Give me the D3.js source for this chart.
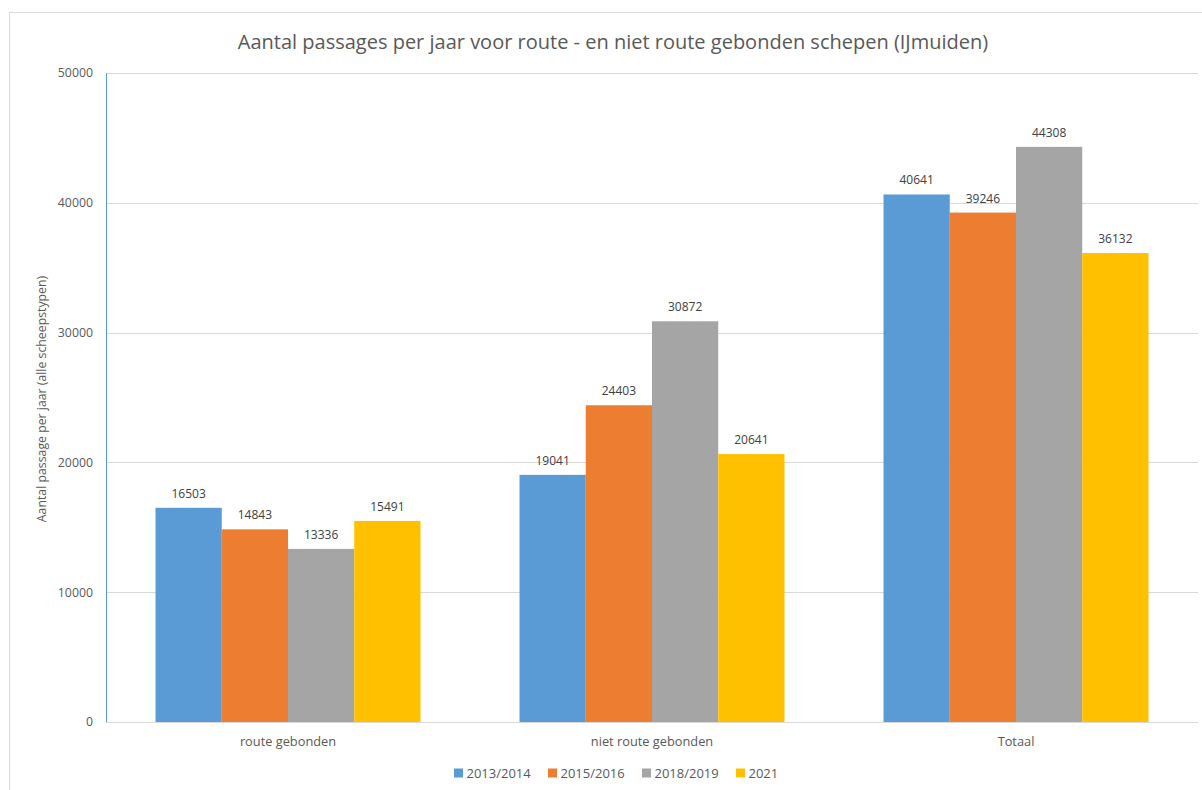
<!DOCTYPE html>
<html>
<head>
<meta charset="utf-8">
<script src="https://cdn.jsdelivr.net/npm/d3@7"></script>
<style>
  html, body { margin: 0; padding: 0; background: #fff; }
  svg { display: block; font-family: "Open Sans", "Liberation Sans", sans-serif; }
</style>
</head>
<body>
<svg id="chart" width="1202" height="790"></svg>
<script>
// Categories, series and values
const categories = ["route gebonden", "niet route gebonden", "Totaal"];
const seriesNames = ["2013/2014", "2015/2016", "2018/2019", "2021"];
const seriesColors = ["#5b9bd5", "#ed7d31", "#a5a5a5", "#ffc000"];
const values2013 = [16503, 19041, 40641];
const values2015 = [14843, 24403, 39246];
const values2018 = [13336, 30872, 44308];
const values2021 = [15491, 20641, 36132];
const yTicks = [0, 10000, 20000, 30000, 40000, 50000];

const seriesValues = [values2013, values2015, values2018, values2021];

const svg = d3.select("#chart");
const plot = { left: 106, right: 1198, top: 73, bottom: 722 };

// chart frame
svg.append("rect")
  .attr("x", 9.5).attr("y", 12.5)
  .attr("width", 1240).attr("height", 900)
  .attr("fill", "#fff").attr("stroke", "#d9d9d9").attr("stroke-width", 1);

const x0 = d3.scaleBand()
  .domain(categories)
  .range([plot.left, plot.right])
  .paddingInner(0.272)
  .paddingOuter(0.136);

const x1 = d3.scaleBand()
  .domain(seriesNames)
  .range([0, x0.bandwidth()])
  .padding(0);

const y = d3.scaleLinear()
  .domain([0, 50000])
  .range([plot.bottom, plot.top]);

// gridlines
svg.append("g")
  .selectAll("line")
  .data(yTicks.filter(d => d > 0))
  .join("line")
  .attr("x1", plot.left).attr("x2", plot.right)
  .attr("y1", d => Math.round(y(d)) + 0.5)
  .attr("y2", d => Math.round(y(d)) + 0.5)
  .attr("stroke", "#d9d9d9").attr("stroke-width", 1);

// y tick labels
const yAxis = d3.axisLeft(y).tickValues(yTicks).tickSize(0).tickPadding(13).tickFormat(d3.format("d"));
const gy = svg.append("g").attr("transform", `translate(${plot.left},0)`).call(yAxis);
gy.select(".domain").remove();
gy.selectAll("text")
  .attr("fill", "#595959")
  .style("font-size", "12.3px")
  .style("font-family", "'Open Sans', sans-serif");

// bars
const groups = svg.append("g")
  .selectAll("g")
  .data(categories)
  .join("g")
  .attr("transform", d => `translate(${x0(d)},0)`);

groups.selectAll("rect")
  .data((c, i) => seriesNames.map((s, j) => ({ s, j, v: seriesValues[j][i] })))
  .join("rect")
  .attr("x", d => x1(d.s))
  .attr("width", x1.bandwidth())
  .attr("y", d => y(d.v))
  .attr("height", d => y(0) - y(d.v))
  .attr("fill", d => seriesColors[d.j]);

// data labels
groups.selectAll("text")
  .data((c, i) => seriesNames.map((s, j) => ({ s, j, v: seriesValues[j][i] })))
  .join("text")
  .attr("x", d => x1(d.s) + x1.bandwidth() / 2)
  .attr("y", d => y(d.v) - 10)
  .attr("text-anchor", "middle")
  .attr("fill", "#404040")
  .style("font-size", "12px")
  .text(d => d.v);

// axis lines
svg.append("line")
  .attr("x1", plot.left).attr("x2", plot.right)
  .attr("y1", plot.bottom + 0.5).attr("y2", plot.bottom + 0.5)
  .attr("stroke", "#d9d9d9");
svg.append("line")
  .attr("x1", plot.left + 0.5).attr("x2", plot.left + 0.5)
  .attr("y1", plot.top).attr("y2", plot.bottom)
  .attr("stroke", "#5b9bd5").attr("stroke-width", 1);

// category labels
const xAxis = d3.axisBottom(x0).tickSize(0).tickPadding(15);
const gx = svg.append("g").attr("transform", `translate(0,${plot.bottom})`).call(xAxis);
gx.select(".domain").remove();
gx.selectAll("text")
  .attr("fill", "#595959")
  .style("font-size", "12.8px")
  .style("font-family", "'Open Sans', sans-serif");

// title
svg.append("text")
  .attr("x", 613).attr("y", 49)
  .attr("text-anchor", "middle")
  .attr("fill", "#595959")
  .style("font-size", "20px")
  .text("Aantal passages per jaar voor route - en niet route gebonden schepen (IJmuiden)");

// y axis title
svg.append("text")
  .attr("transform", "translate(46,399) rotate(-90)")
  .attr("text-anchor", "middle")
  .attr("fill", "#595959")
  .style("font-size", "12.3px")
  .text("Aantal passage per jaar (alle scheepstypen)");

// legend
const legendX = [454, 548, 642, 736];
const legend = svg.append("g")
  .selectAll("g")
  .data(seriesNames)
  .join("g")
  .attr("transform", (d, i) => `translate(${legendX[i]},773)`);
legend.append("rect")
  .attr("x", 0).attr("y", -4.5)
  .attr("width", 9).attr("height", 9)
  .attr("fill", (d, i) => seriesColors[i]);
legend.append("text")
  .attr("x", 12.5).attr("y", 5)
  .attr("fill", "#595959")
  .style("font-size", "13px")
  .text(d => d);
</script>
</body>
</html>
